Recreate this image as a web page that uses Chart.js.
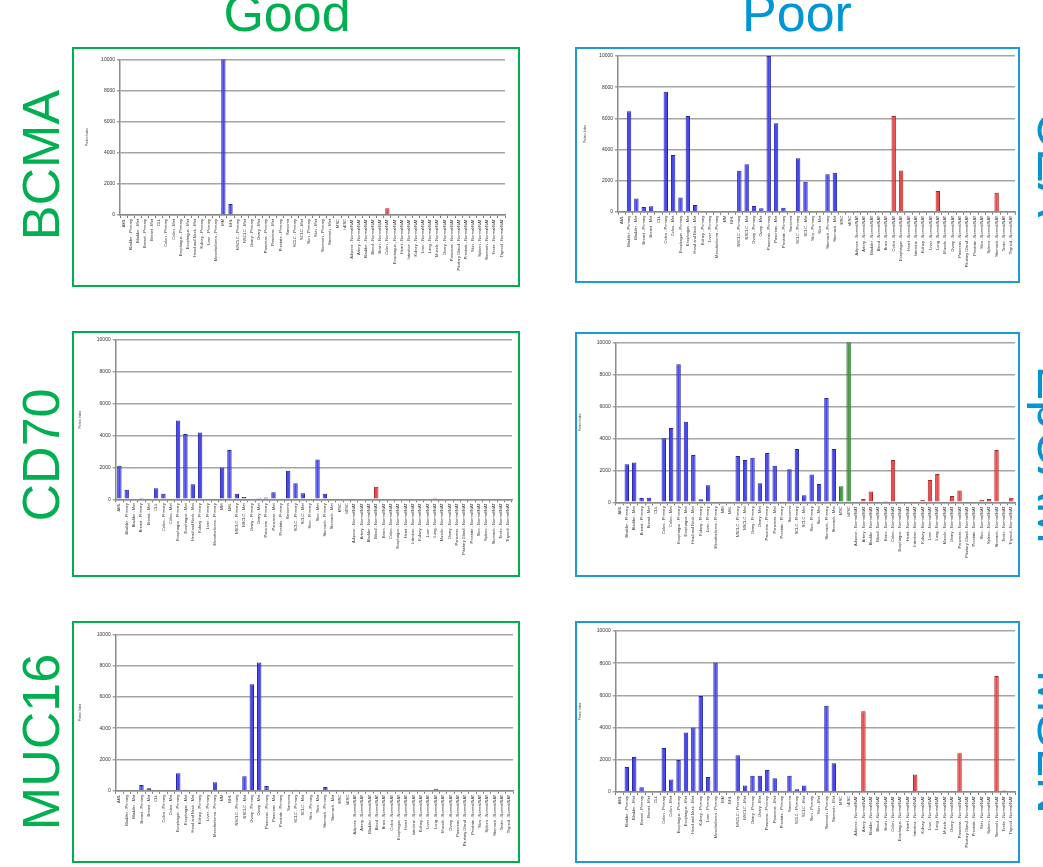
<!DOCTYPE html>
<html>
<head>
<meta charset="utf-8">
<script src="https://cdn.jsdelivr.net/npm/chart.js@4.4.0/dist/chart.umd.min.js"></script>
<style>
  body { margin: 0; background: #fff; overflow: hidden; }
  #page { position: relative; width: 1043px; height: 867px; overflow: hidden; font-family: 'Liberation Sans', Arial, sans-serif; }
  .head { position: absolute; font-size: 52px; line-height: 52px; white-space: nowrap; }
  .side { position: absolute; font-size: 52px; line-height: 52px; white-space: nowrap; }
  .box { position: absolute; box-sizing: border-box; border: 2px solid; background: #fff; }
  canvas { position: absolute; }
</style>
</head>
<body>
<div id="page"></div>
<script>
// Categories on the x axis (tumour samples, cell lines, normal tissues)
const categories = [
  'AML', 'Bladder - Primary', 'Bladder - Met', 'Breast - Primary', 'Breast - Met', 'CLL',
  'Colon - Primary', 'Colon - Met', 'Esophagus - Primary', 'Esophagus - Met', 'Head and Neck - Met',
  'Kidney - Primary', 'Liver - Primary', 'Mesothelioma - Primary', 'MM', 'NHL',
  'NSCLC - Primary', 'NSCLC - Met', 'Ovary - Primary', 'Ovary - Met', 'Pancreas - Primary',
  'Pancreas - Met', 'Prostate - Primary', 'Sarcoma', 'SCLC - Primary', 'SCLC - Met',
  'Skin - Primary', 'Skin - Met', 'Stomach - Primary', 'Stomach - Met', 'MSC', 'hESC',
  'Adipose - Normal/NAT', 'Artery - Normal/NAT', 'Bladder - Normal/NAT', 'Blood - Normal/NAT',
  'Brain - Normal/NAT', 'Colon - Normal/NAT', 'Esophagus - Normal/NAT', 'Heart - Normal/NAT',
  'Intestine - Normal/NAT', 'Kidney - Normal/NAT', 'Liver - Normal/NAT', 'Lung - Normal/NAT',
  'Muscle - Normal/NAT', 'Ovary - Normal/NAT', 'Pancreas - Normal/NAT', 'Pituitary Gland - Normal/NAT',
  'Prostate - Normal/NAT', 'Skin - Normal/NAT', 'Spleen - Normal/NAT', 'Stomach - Normal/NAT',
  'Testis - Normal/NAT', 'Thyroid - Normal/NAT'
]
const cellLines = ['MSC', 'hESC']

const yTicks = [0, 2000, 4000, 6000, 8000, 10000]

// Protein index per category, one list per target
const bcmaValues = [
  0, 0, 0, 0, 0, 0, 0, 0, 0, 0, 0, 0, 0, 0, 10000, 700, 0, 0, 0, 0, 0, 0, 0, 0, 0, 0, 0, 0, 0, 0, 0, 0,
  0, 0, 0, 0, 0, 430, 0, 0, 0, 0, 0, 0, 0, 0, 0, 0, 0, 0, 0, 0, 0, 0
]
const cd70Values = [
  2100, 600, 0, 100, 0, 690, 350, 0, 4940, 4100, 940, 4200, 0, 0, 2000, 3100, 350, 150, 0, 80, 120, 440,
  0, 1800, 1000, 380, 0, 2500, 350, 0, 0, 0,
  0, 0, 0, 780, 0, 0, 0, 0, 0, 0, 0, 100, 0, 0, 0, 0, 0, 0, 0, 0, 0, 0
]
const muc16Values = [
  0, 0, 40, 360, 150, 0, 40, 40, 1110, 60, 40, 40, 0, 540, 0, 0, 40, 920, 6800, 8190, 300, 40,
  0, 0, 60, 0, 0, 0, 230, 40, 0, 0,
  0, 0, 0, 30, 30, 30, 0, 0, 0, 30, 0, 130, 0, 0, 30, 0, 0, 0, 0, 0, 0, 0
]
const ceaValues = [
  50, 6450, 850, 300, 350, 0, 7700, 3640, 920, 6150, 430, 0, 0, 0, 0, 0, 2630, 3050, 360, 220, 10000, 5680,
  260, 0, 3430, 1930, 0, 0, 2400, 2500, 0, 0,
  0, 0, 0, 0, 30, 6150, 2650, 0, 0, 0, 0, 1330, 0, 0, 0, 0, 0, 0, 0, 1220, 0, 0
]
const epcamValues = [
  0, 2380, 2480, 270, 280, 0, 4000, 4650, 8630, 5040, 2960, 190, 1060, 0, 0, 0, 2900, 2650, 2790, 1190, 3080, 2290,
  60, 2060, 3330, 440, 1730, 1150, 6520, 3330, 1000, 10000,
  0, 210, 670, 0, 80, 2650, 0, 0, 0, 150, 1400, 1770, 0, 400, 730, 60, 0, 150, 210, 3270, 60, 290
]
const mslnValues = [
  0, 1550, 2170, 290, 0, 0, 2730, 770, 1990, 3700, 4000, 5960, 930, 8050, 0, 0, 2280, 400, 1010, 1010, 1370, 850,
  0, 1010, 170, 400, 0, 0, 5360, 1780, 0, 0,
  0, 5010, 0, 0, 0, 0, 0, 0, 1080, 0, 0, 0, 0, 0, 2400, 0, 0, 0, 0, 7200, 100, 0
]

const GREEN = '#00b050'
const BLUE = '#1b9ad6'

Chart.defaults.font.family = "'Liberation Sans', Arial, sans-serif"

const page = document.getElementById('page')

function addText(cls, text, color, css) {
  const el = document.createElement('div')
  el.className = cls
  el.textContent = text
  el.style.color = color
  Object.assign(el.style, css)
  page.appendChild(el)
}

// Column headings and row / side labels
addText('head', 'Good', '#00b050', { left: '287px', top: '-13px', transform: 'translateX(-50%)' })
addText('head', 'Poor', '#0096d6', { left: '797px', top: '-13px', transform: 'translateX(-50%)' })
addText('side', 'BCMA', GREEN, { left: '41px', top: '165px', transform: 'translate(-50%,-50%) rotate(-90deg)' })
addText('side', 'CD70', GREEN, { left: '41px', top: '455px', transform: 'translate(-50%,-50%) rotate(-90deg)' })
addText('side', 'MUC16', GREEN, { left: '41px', top: '742px', transform: 'translate(-50%,-50%) rotate(-90deg)' })
addText('side', 'CEA', '#0096d6', { left: '1056px', top: '164px', transform: 'translate(-50%,-50%) rotate(90deg)' })
addText('side', 'EpCAM', '#0096d6', { left: '1056px', top: '455px', transform: 'translate(-50%,-50%) rotate(90deg)' })
addText('side', 'MSLN', '#0096d6', { left: '1056px', top: '742px', transform: 'translate(-50%,-50%) rotate(90deg)' })

function barColor(label, dark) {
  if (label.includes('Normal/NAT')) return dark ? '#a32626' : '#ee4848'
  if (cellLines.includes(label)) return dark ? '#236a23' : '#3f9c3f'
  return dark ? '#2424a0' : '#4848f2'
}

// box = frame of the panel, area = wanted plot area, titleX = left of y title
function makePanel(values, frameColor, box, area, titleX) {
  const frame = document.createElement('div')
  frame.className = 'box'
  Object.assign(frame.style, {
    left: box.x + 'px', top: box.y + 'px', width: box.w + 'px', height: box.h + 'px', borderColor: frameColor
  })
  page.appendChild(frame)

  const cx = box.x + 2, cy = box.y + 2, cw = box.w - 4, ch = box.h - 4
  const canvas = document.createElement('canvas')
  canvas.width = cw
  canvas.height = ch
  canvas.style.left = cx + 'px'
  canvas.style.top = cy + 'px'
  page.appendChild(canvas)

  const yWidth = area.left - titleX
  const xHeight = cy + ch - area.bottom

  new Chart(canvas, {
    type: 'bar',
    data: {
      labels: categories,
      datasets: [{
        data: values,
        backgroundColor: categories.map(c => barColor(c, false)),
        borderColor: categories.map(c => barColor(c, true)),
        borderWidth: 1,
        barPercentage: 0.6,
        categoryPercentage: 1
      }]
    },
    options: {
      responsive: false,
      animation: false,
      layout: {
        padding: { left: titleX - cx, top: area.top - cy, right: cx + cw - area.right, bottom: 0 }
      },
      plugins: { legend: { display: false }, tooltip: { enabled: false } },
      scales: {
        x: {
          grid: { drawOnChartArea: false, tickLength: 3, color: '#7a7a7a', offset: true },
          border: { color: '#8a8a8a', width: 1.5 },
          ticks: { autoSkip: false, minRotation: 90, maxRotation: 90, padding: 1, color: '#333', font: { size: 4 } },
          afterFit: s => { s.height = xHeight }
        },
        y: {
          min: 0,
          max: 10000,
          afterBuildTicks: s => { s.ticks = yTicks.map(v => ({ value: v })) },
          grid: { color: '#a4a4a4', lineWidth: 1.5, tickLength: 3 },
          border: { color: '#8a8a8a', width: 1.5 },
          ticks: { padding: 2, color: '#333', font: { size: 5 }, callback: v => String(v) },
          title: { display: true, text: 'Protein Index', color: '#444', font: { size: 3 }, padding: 0 },
          afterFit: s => { s.width = yWidth }
        }
      }
    }
  })
}

makePanel(bcmaValues, GREEN, { x: 72, y: 47, w: 448, h: 240 }, { left: 120, top: 59.3, right: 505, bottom: 215 }, 85)
makePanel(ceaValues, BLUE, { x: 575, y: 47, w: 445, h: 236 }, { left: 618, top: 56, right: 1015, bottom: 211.7 }, 583)
makePanel(cd70Values, GREEN, { x: 72, y: 331, w: 448, h: 246 }, { left: 115.7, top: 340, right: 512, bottom: 499.3 }, 78)
makePanel(epcamValues, BLUE, { x: 575, y: 332, w: 445, h: 245 }, { left: 615.7, top: 342.3, right: 1015, bottom: 502.3 }, 578)
makePanel(muc16Values, GREEN, { x: 72, y: 621, w: 448, h: 242 }, { left: 115.7, top: 634.3, right: 513, bottom: 790.7 }, 78)
makePanel(mslnValues, BLUE, { x: 575, y: 621, w: 445, h: 242 }, { left: 615.7, top: 631, right: 1015, bottom: 792 }, 578)
</script>
</body>
</html>
